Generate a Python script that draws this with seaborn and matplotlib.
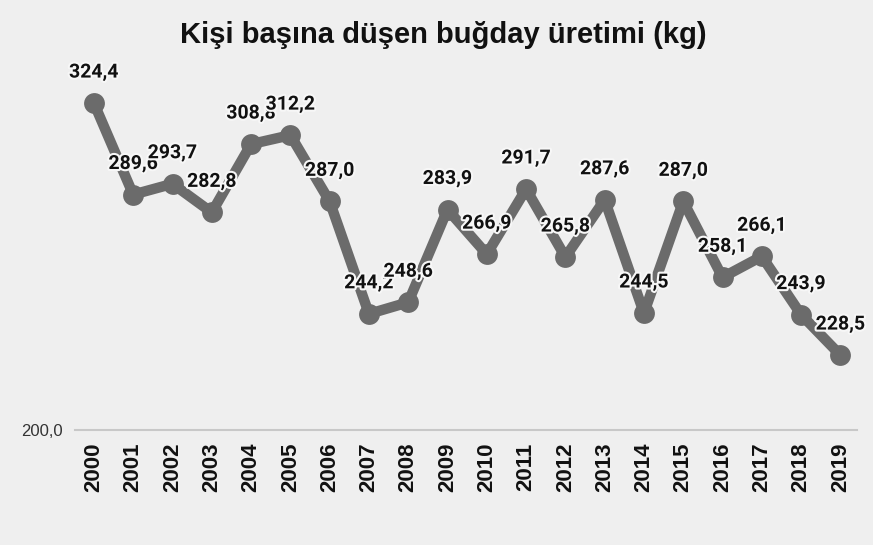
import pandas as pd
import matplotlib.pyplot as plt
import matplotlib.patheffects as pe
import seaborn as sns

# Veriler
years = [str(y) for y in range(2000, 2020)]
values = [324.4, 289.6, 293.7, 282.8, 308.8, 312.2, 287.0, 244.2, 248.6, 283.9,
          266.9, 291.7, 265.8, 287.6, 244.5, 287.0, 258.1, 266.1, 243.9, 228.5]
value_labels = [f"{v:.1f}".replace(".", ",") for v in values]

df = pd.DataFrame({"year": years, "value": values})

bg = "#efefef"
sns.set_style("white", rc={"axes.facecolor": bg, "figure.facecolor": bg})
plt.rcParams["font.family"] = ["Liberation Sans", "DejaVu Sans"]

fig = plt.figure(figsize=(8.73, 5.45), dpi=100)
ax = fig.add_axes([0.086, 0.211, 0.896, 0.675])

sns.lineplot(data=df, x="year", y="value", ax=ax, color="#6b6b6b",
             linewidth=7.5, marker="o", markersize=15, markeredgewidth=0,
             solid_joinstyle="round", solid_capstyle="round")

# Değer etiketleri
for i, (v, lab) in enumerate(zip(values, value_labels)):
    ax.annotate(lab, (i, v), xytext=(0, 22), textcoords="offset points",
                ha="center", va="center", fontsize=14, fontweight="bold",
                family=["Roboto", "DejaVu Sans"], color="#111111",
                path_effects=[pe.withStroke(linewidth=3, foreground="#f7f7f7")])

ax.set_xlim(-0.48, 19.43)
ax.set_ylim(200, 340)
ax.set_yticks([200])
ax.set_yticklabels(["200,0"], fontsize=12, color="#333333")
ax.set_xticks(range(len(years)))
ax.set_xticklabels(years, rotation=90, fontsize=16, fontweight="bold", color="#111111")
ax.tick_params(axis="both", length=0)
ax.tick_params(axis="x", pad=9)
ax.tick_params(axis="y", pad=9)

for s in ["top", "right", "left"]:
    ax.spines[s].set_visible(False)
ax.spines["bottom"].set_color("#c8c8c8")
ax.spines["bottom"].set_linewidth(1.5)

ax.set_xlabel("")
ax.set_ylabel("")
fig.text(0.508, 0.935, "Kişi başına düşen buğday üretimi (kg)", ha="center", va="center",
         fontsize=21, fontweight="bold", color="#111111")

fig.savefig("out.png", dpi=100, facecolor=bg)
